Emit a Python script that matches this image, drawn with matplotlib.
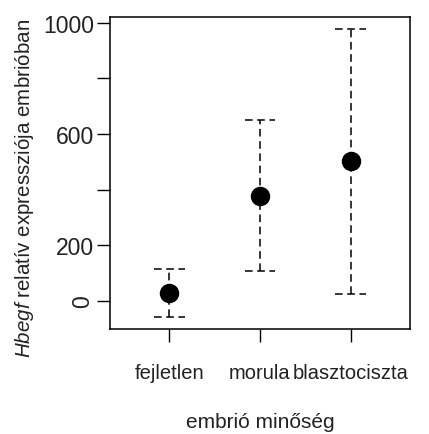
import numpy as np
import matplotlib.pyplot as plt

plt.rcParams['font.family'] = ['Liberation Sans', 'DejaVu Sans']
plt.rcParams['mathtext.fontset'] = 'custom'
plt.rcParams['mathtext.rm'] = 'Liberation Sans'
plt.rcParams['mathtext.it'] = 'Liberation Sans:italic'

groups = ['fejletlen', 'morula', 'blasztociszta']
means = [26, 376, 503]
lower = [-60, 106, 24]
upper = [115, 650, 979]

yticks = [0, 200, 400, 600, 800, 1000]
ylabels = ['0', '200', '', '600', '', '1000']

fig = plt.figure(figsize=(4.29, 4.35), dpi=100)
ax = fig.add_axes([0.2564, 0.2414, 0.6993, 0.7172])

x = np.arange(1, len(groups) + 1)
cap = 0.17
for xi, lo, hi in zip(x, lower, upper):
    ax.plot([xi, xi], [lo, hi], color='black', lw=1.1, dashes=(5, 3))
    ax.plot([xi - cap, xi + cap], [lo, lo], color='black', lw=1.1, dashes=(5, 3))
    ax.plot([xi - cap, xi + cap], [hi, hi], color='black', lw=1.1, dashes=(5, 3))
ax.plot(x, means, 'o', color='black', ms=13, zorder=3)

ax.set_xlim(0.35, 3.65)
ax.set_ylim(-102, 1021)
ax.set_xticks(x)
ax.set_xticklabels(groups, fontsize=14.5, color='#222222')
ax.set_yticks(yticks)
ax.set_yticklabels(ylabels, fontsize=16.5, color='#222222')
# the zero label stands on its side
ax.get_yticklabels()[0].set_rotation(90)
ax.get_yticklabels()[0].set_va('center')

ax.tick_params(length=9.5, width=1, color='black', pad=2)
ax.tick_params(axis='x', pad=15)
for s in ax.spines.values():
    s.set_linewidth(1.1)

ax.set_xlabel('embrió minőség', fontsize=15, labelpad=21.5, color='#222222')
ax.set_ylabel(r'$\mathit{Hbegf}$ relatív expressziója embrióban', fontsize=14.8, color='#222222')
ax.yaxis.set_label_coords(-0.245, 0.455)

fig.savefig('out.png', dpi=100)
